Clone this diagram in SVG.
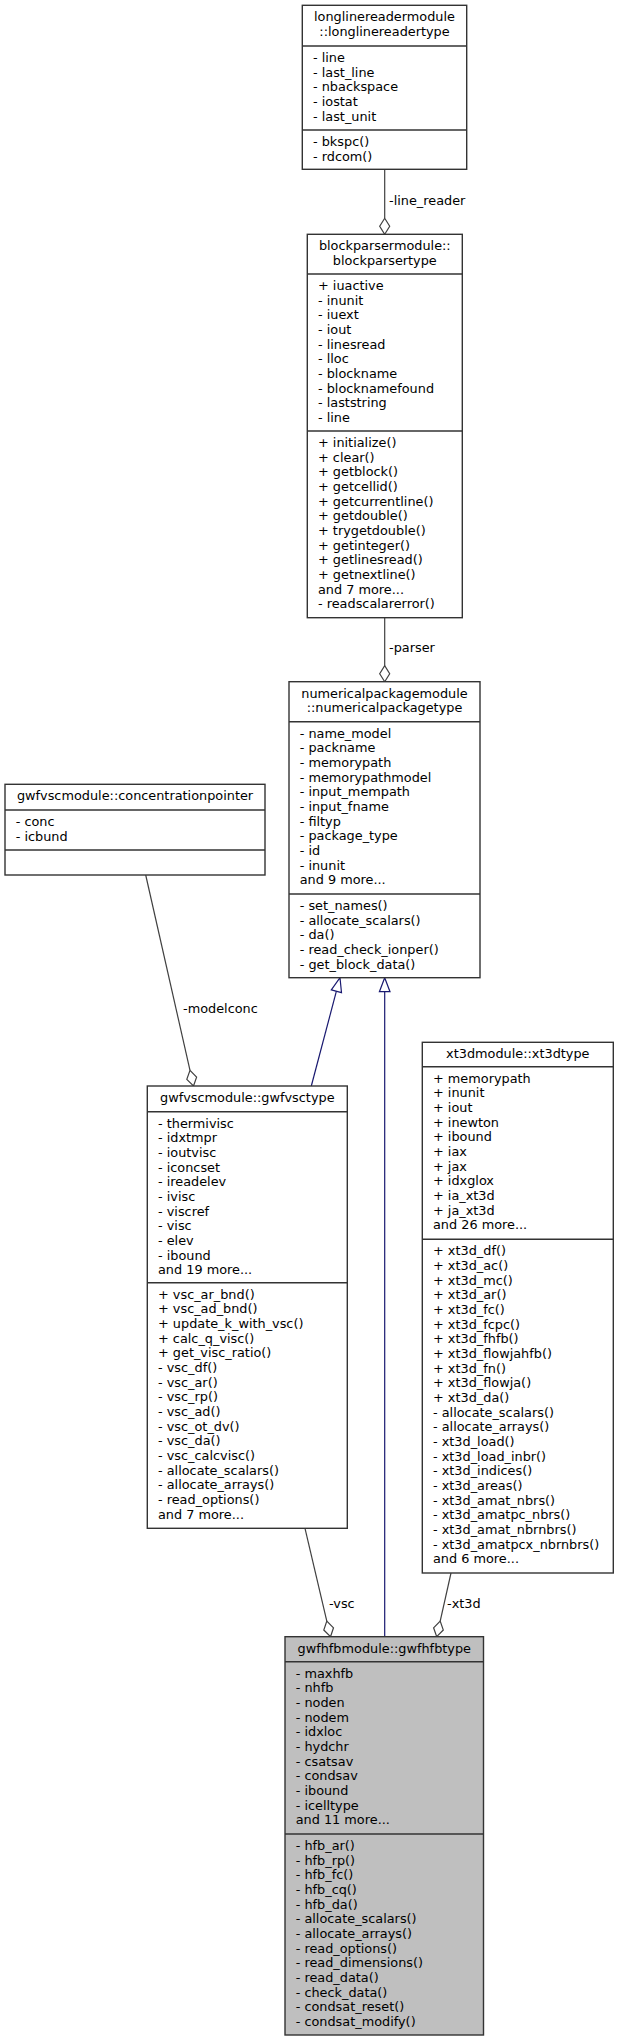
<svg xmlns="http://www.w3.org/2000/svg" width="619" height="2041" viewBox="0 0 619 2041">
<style>
text{font-family:"DejaVu Sans","Liberation Sans",sans-serif;font-size:12.85px;fill:#000}
.c{text-anchor:middle}
.box{fill:#fff;stroke:#333;stroke-width:1.4}
.cur{fill:#bfbfbf;stroke:#333;stroke-width:1.4}
.sep{stroke:#333;stroke-width:1.4}
.e{fill:none;stroke:#404040;stroke-width:1.2}
.g{fill:none;stroke:#191970;stroke-width:1.2}
.dia{fill:#fff;stroke:#404040;stroke-width:1.2}
.tri{fill:#fff;stroke:#191970;stroke-width:1.2}
</style>
<rect width="619" height="2041" fill="#fff"/>
<g id="connectors">
<line class="e" x1="384.7" y1="169.3" x2="384.7" y2="218.3"/>
<polygon class="dia" points="384.7,234.3 389.7,226.3 384.7,218.3 379.7,226.3"/>
<text x="389" y="205">-line_reader</text>
<line class="e" x1="384.7" y1="617.7" x2="384.7" y2="665.7"/>
<polygon class="dia" points="384.7,681.7 389.7,673.7 384.7,665.7 379.7,673.7"/>
<text x="389" y="652">-parser</text>
<line class="e" x1="145.7" y1="875" x2="190" y2="1070.4"/>
<polygon class="dia" points="193.5,1086 196.6,1077.1 190,1070.4 186.8,1079.3"/>
<text x="183" y="1012.5">-modelconc</text>
<line class="g" x1="311.3" y1="1086" x2="336.4" y2="991.2"/>
<polygon class="tri" points="340,977.7 341.5,992.6 331.3,989.8"/>
<line class="g" x1="384.7" y1="1636.7" x2="384.7" y2="991.7"/>
<polygon class="tri" points="384.7,977.7 390,991.7 379.4,991.7"/>
<line class="e" x1="305" y1="1528.3" x2="326.8" y2="1621.1"/>
<polygon class="dia" points="330.5,1636.7 333.5,1627.8 326.8,1621.1 323.8,1630"/>
<text x="329" y="1607.5">-vsc</text>
<line class="e" x1="451" y1="1573" x2="440.2" y2="1621.1"/>
<polygon class="dia" points="436.7,1636.7 443.3,1630 440.2,1621.1 433.6,1627.8"/>
<text x="447" y="1607.5">-xt3d</text>
</g>
<g id="longlinereader">
<rect class="box" x="302.3" y="5.3" width="164.4" height="164"/>
<line class="sep" x1="302.3" y1="46" x2="466.7" y2="46"/>
<line class="sep" x1="302.3" y1="130" x2="466.7" y2="130"/>
<text class="c" x="384.5" y="21.3">longlinereadermodule</text>
<text class="c" x="384.5" y="36">::longlinereadertype</text>
<text x="313" y="62">- line</text>
<text x="313" y="76.67">- last_line</text>
<text x="313" y="91.33">- nbackspace</text>
<text x="313" y="106">- iostat</text>
<text x="313" y="120.67">- last_unit</text>
<text x="313" y="146">- bkspc()</text>
<text x="313" y="160.67">- rdcom()</text>
</g>
<g id="blockparser">
<rect class="box" x="307.3" y="234.3" width="155" height="383.4"/>
<line class="sep" x1="307.3" y1="274" x2="462.3" y2="274"/>
<line class="sep" x1="307.3" y1="431" x2="462.3" y2="431"/>
<text class="c" x="384.8" y="250.3">blockparsermodule::</text>
<text class="c" x="384.8" y="265">blockparsertype</text>
<text x="318" y="290">+ iuactive</text>
<text x="318" y="304.67">- inunit</text>
<text x="318" y="319.33">- iuext</text>
<text x="318" y="334">- iout</text>
<text x="318" y="348.67">- linesread</text>
<text x="318" y="363.33">- lloc</text>
<text x="318" y="378">- blockname</text>
<text x="318" y="392.67">- blocknamefound</text>
<text x="318" y="407.33">- laststring</text>
<text x="318" y="422">- line</text>
<text x="318" y="447">+ initialize()</text>
<text x="318" y="461.67">+ clear()</text>
<text x="318" y="476.33">+ getblock()</text>
<text x="318" y="491">+ getcellid()</text>
<text x="318" y="505.67">+ getcurrentline()</text>
<text x="318" y="520.33">+ getdouble()</text>
<text x="318" y="535">+ trygetdouble()</text>
<text x="318" y="549.67">+ getinteger()</text>
<text x="318" y="564.33">+ getlinesread()</text>
<text x="318" y="579">+ getnextline()</text>
<text x="318" y="593.67">and 7 more...</text>
<text x="318" y="608.33">- readscalarerror()</text>
</g>
<g id="numericalpackage">
<rect class="box" x="289" y="681.7" width="191" height="296"/>
<line class="sep" x1="289" y1="721.7" x2="480" y2="721.7"/>
<line class="sep" x1="289" y1="894" x2="480" y2="894"/>
<text class="c" x="384.5" y="697.7">numericalpackagemodule</text>
<text class="c" x="384.5" y="712.4">::numericalpackagetype</text>
<text x="299.7" y="737.7">- name_model</text>
<text x="299.7" y="752.37">- packname</text>
<text x="299.7" y="767.03">- memorypath</text>
<text x="299.7" y="781.7">- memorypathmodel</text>
<text x="299.7" y="796.37">- input_mempath</text>
<text x="299.7" y="811.03">- input_fname</text>
<text x="299.7" y="825.7">- filtyp</text>
<text x="299.7" y="840.37">- package_type</text>
<text x="299.7" y="855.03">- id</text>
<text x="299.7" y="869.7">- inunit</text>
<text x="299.7" y="884.37">and 9 more...</text>
<text x="299.7" y="910">- set_names()</text>
<text x="299.7" y="924.67">- allocate_scalars()</text>
<text x="299.7" y="939.33">- da()</text>
<text x="299.7" y="954">- read_check_ionper()</text>
<text x="299.7" y="968.67">- get_block_data()</text>
</g>
<g id="concentrationpointer">
<rect class="box" x="5" y="784.3" width="260" height="90.7"/>
<line class="sep" x1="5" y1="810" x2="265" y2="810"/>
<line class="sep" x1="5" y1="850" x2="265" y2="850"/>
<text class="c" x="135" y="800.3">gwfvscmodule::concentrationpointer</text>
<text x="15.7" y="826">- conc</text>
<text x="15.7" y="840.67">- icbund</text>
</g>
<g id="gwfvsctype">
<rect class="box" x="147.3" y="1086" width="200" height="442.3"/>
<line class="sep" x1="147.3" y1="1111.7" x2="347.3" y2="1111.7"/>
<line class="sep" x1="147.3" y1="1282.7" x2="347.3" y2="1282.7"/>
<text class="c" x="247.3" y="1102">gwfvscmodule::gwfvsctype</text>
<text x="158" y="1127.7">- thermivisc</text>
<text x="158" y="1142.37">- idxtmpr</text>
<text x="158" y="1157.03">- ioutvisc</text>
<text x="158" y="1171.7">- iconcset</text>
<text x="158" y="1186.37">- ireadelev</text>
<text x="158" y="1201.03">- ivisc</text>
<text x="158" y="1215.7">- viscref</text>
<text x="158" y="1230.37">- visc</text>
<text x="158" y="1245.03">- elev</text>
<text x="158" y="1259.7">- ibound</text>
<text x="158" y="1274.37">and 19 more...</text>
<text x="158" y="1298.7">+ vsc_ar_bnd()</text>
<text x="158" y="1313.37">+ vsc_ad_bnd()</text>
<text x="158" y="1328.03">+ update_k_with_vsc()</text>
<text x="158" y="1342.7">+ calc_q_visc()</text>
<text x="158" y="1357.37">+ get_visc_ratio()</text>
<text x="158" y="1372.03">- vsc_df()</text>
<text x="158" y="1386.7">- vsc_ar()</text>
<text x="158" y="1401.37">- vsc_rp()</text>
<text x="158" y="1416.03">- vsc_ad()</text>
<text x="158" y="1430.7">- vsc_ot_dv()</text>
<text x="158" y="1445.37">- vsc_da()</text>
<text x="158" y="1460.03">- vsc_calcvisc()</text>
<text x="158" y="1474.7">- allocate_scalars()</text>
<text x="158" y="1489.37">- allocate_arrays()</text>
<text x="158" y="1504.03">- read_options()</text>
<text x="158" y="1518.7">and 7 more...</text>
</g>
<g id="xt3dtype">
<rect class="box" x="422.3" y="1042.3" width="191" height="530.7"/>
<line class="sep" x1="422.3" y1="1066.7" x2="613.3" y2="1066.7"/>
<line class="sep" x1="422.3" y1="1239.3" x2="613.3" y2="1239.3"/>
<text class="c" x="517.8" y="1058.3">xt3dmodule::xt3dtype</text>
<text x="433" y="1082.7">+ memorypath</text>
<text x="433" y="1097.37">+ inunit</text>
<text x="433" y="1112.03">+ iout</text>
<text x="433" y="1126.7">+ inewton</text>
<text x="433" y="1141.37">+ ibound</text>
<text x="433" y="1156.03">+ iax</text>
<text x="433" y="1170.7">+ jax</text>
<text x="433" y="1185.37">+ idxglox</text>
<text x="433" y="1200.03">+ ia_xt3d</text>
<text x="433" y="1214.7">+ ja_xt3d</text>
<text x="433" y="1229.37">and 26 more...</text>
<text x="433" y="1255.3">+ xt3d_df()</text>
<text x="433" y="1269.97">+ xt3d_ac()</text>
<text x="433" y="1284.63">+ xt3d_mc()</text>
<text x="433" y="1299.3">+ xt3d_ar()</text>
<text x="433" y="1313.97">+ xt3d_fc()</text>
<text x="433" y="1328.63">+ xt3d_fcpc()</text>
<text x="433" y="1343.3">+ xt3d_fhfb()</text>
<text x="433" y="1357.97">+ xt3d_flowjahfb()</text>
<text x="433" y="1372.63">+ xt3d_fn()</text>
<text x="433" y="1387.3">+ xt3d_flowja()</text>
<text x="433" y="1401.97">+ xt3d_da()</text>
<text x="433" y="1416.63">- allocate_scalars()</text>
<text x="433" y="1431.3">- allocate_arrays()</text>
<text x="433" y="1445.97">- xt3d_load()</text>
<text x="433" y="1460.63">- xt3d_load_inbr()</text>
<text x="433" y="1475.3">- xt3d_indices()</text>
<text x="433" y="1489.97">- xt3d_areas()</text>
<text x="433" y="1504.63">- xt3d_amat_nbrs()</text>
<text x="433" y="1519.3">- xt3d_amatpc_nbrs()</text>
<text x="433" y="1533.97">- xt3d_amat_nbrnbrs()</text>
<text x="433" y="1548.63">- xt3d_amatpcx_nbrnbrs()</text>
<text x="433" y="1563.3">and 6 more...</text>
</g>
<g id="gwfhfbtype">
<rect class="cur" x="285" y="1636.7" width="198.5" height="398.3"/>
<line class="sep" x1="285" y1="1661.7" x2="483.5" y2="1661.7"/>
<line class="sep" x1="285" y1="1834" x2="483.5" y2="1834"/>
<text class="c" x="384.25" y="1652.7">gwfhfbmodule::gwfhfbtype</text>
<text x="295.7" y="1677.7">- maxhfb</text>
<text x="295.7" y="1692.37">- nhfb</text>
<text x="295.7" y="1707.03">- noden</text>
<text x="295.7" y="1721.7">- nodem</text>
<text x="295.7" y="1736.37">- idxloc</text>
<text x="295.7" y="1751.03">- hydchr</text>
<text x="295.7" y="1765.7">- csatsav</text>
<text x="295.7" y="1780.37">- condsav</text>
<text x="295.7" y="1795.03">- ibound</text>
<text x="295.7" y="1809.7">- icelltype</text>
<text x="295.7" y="1824.37">and 11 more...</text>
<text x="295.7" y="1850">- hfb_ar()</text>
<text x="295.7" y="1864.67">- hfb_rp()</text>
<text x="295.7" y="1879.33">- hfb_fc()</text>
<text x="295.7" y="1894">- hfb_cq()</text>
<text x="295.7" y="1908.67">- hfb_da()</text>
<text x="295.7" y="1923.33">- allocate_scalars()</text>
<text x="295.7" y="1938">- allocate_arrays()</text>
<text x="295.7" y="1952.67">- read_options()</text>
<text x="295.7" y="1967.33">- read_dimensions()</text>
<text x="295.7" y="1982">- read_data()</text>
<text x="295.7" y="1996.67">- check_data()</text>
<text x="295.7" y="2011.33">- condsat_reset()</text>
<text x="295.7" y="2026">- condsat_modify()</text>
</g>
</svg>
